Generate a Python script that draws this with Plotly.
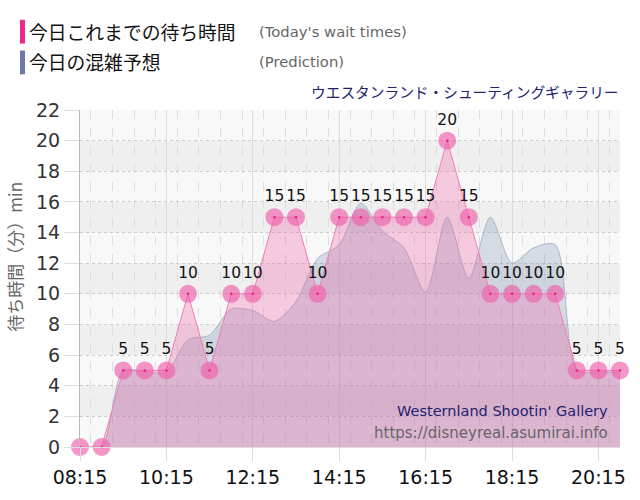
import plotly.graph_objects as go

times = ["08:15", "08:45", "09:15", "09:45", "10:15", "10:45", "11:15", "11:45", "12:15",
         "12:45", "13:15", "13:45", "14:15", "14:45", "15:15", "15:45", "16:15", "16:45",
         "17:15", "17:45", "18:15", "18:45", "19:15", "19:45", "20:15", "20:45"]
actual = [0, 0, 5, 5, 5, 10, 5, 10, 10, 15, 15, 10, 15, 15, 15, 15, 15, 20,
          15, 10, 10, 10, 10, 5, 5, 5]
predicted = [0, 0, 5, 4.9, 4.9, 7.0, 7.3, 9.0, 8.9, 8.2, 9.5, 12.3, 13.2, 15.9,
             14.1, 13.0, 10.1, 15.0, 11.0, 15.0, 12.0, 13.0, 13.2, 5.0, 4.9, 4.9]
tick_labels = ["08:15", "10:15", "12:15", "14:15", "16:15", "18:15", "20:15"]

DAY = "2024-01-01 "
xs = [DAY + t for t in times]
tickvals = [DAY + t for t in tick_labels]
labels = [str(v) if v > 0 else "" for v in actual]

# plot area in pixels: x 80..620, y 110..450
def px(x):
    return (x - 80) / 540

def py(y):
    return (450 - y) / 340

fig = go.Figure()

fig.add_trace(go.Scatter(
    x=xs, y=predicted, mode="lines", line=dict(color="#aab6c8", width=1, shape="spline", smoothing=0.8),
    fill="tozeroy", fillcolor="rgba(110,135,170,0.26)", hoverinfo="skip", showlegend=False))

fig.add_trace(go.Scatter(
    x=xs, y=actual, mode="lines+markers+text", line=dict(color="#f27db8", width=1),
    fill="tozeroy", fillcolor="rgba(240,95,165,0.30)",
    marker=dict(size=18, color="rgba(238,95,170,0.66)"),
    text=labels, textposition="top center",
    textfont=dict(family="DejaVu Sans", size=15.5, color="#111"),
    cliponaxis=False, showlegend=False))

fig.add_trace(go.Scatter(
    x=xs, y=actual, mode="markers", marker=dict(size=2.5, color="#e8207f"),
    cliponaxis=False, hoverinfo="skip", showlegend=False))

shapes = []
for y0 in [2, 6, 10, 14, 18]:
    shapes.append(dict(type="rect", xref="paper", yref="y", x0=0, x1=1, y0=y0, y1=y0 + 2,
                       fillcolor="#efefef", line=dict(width=0), layer="below"))
# legend bars
shapes.append(dict(type="rect", xref="paper", yref="paper", x0=px(20), x1=px(25),
                   y0=py(43), y1=py(19), fillcolor="#f0288c", line=dict(width=0)))
shapes.append(dict(type="rect", xref="paper", yref="paper", x0=px(20), x1=px(25),
                   y0=py(74), y1=py(50), fillcolor="#6b78a8", line=dict(width=0)))

def A(x, y, text, anchor, family, size, color, angle=0):
    return dict(x=px(x), y=py(y), xref="paper", yref="paper", text=text, showarrow=False,
                textangle=angle,
                xanchor=anchor, yanchor="middle", font=dict(family=family, size=size, color=color))

ann = [
    A(27, 31, "今日これまでの待ち時間", "left", "Noto Sans CJK JP", 18.8, "#111"),
    A(27, 61, "今日の混雑予想", "left", "Noto Sans CJK JP", 18.8, "#111"),
    A(257, 31, "(Today's wait times)", "left", "DejaVu Sans", 14.8, "#666"),
    A(257, 61, "(Prediction)", "left", "DejaVu Sans", 14.8, "#666"),
    A(621, 91, "ウエスタンランド・シューティングギャラリー", "right", "Noto Sans CJK JP", 14.7, "#22226e"),
    A(610, 414, "Westernland Shootin' Gallery", "right", "DejaVu Sans", 14.5, "#22226e"),
    A(610, 436, "https://disneyreal.asumirai.info", "right", "DejaVu Sans", 15, "#666"),
    dict(x=px(15), y=py(258), xref="paper", yref="paper", text="待ち時間（分）min", showarrow=False,
         textangle=-90, xanchor="center", yanchor="middle",
         font=dict(family="Noto Sans CJK JP", size=17, color="#666")),
]

fig.update_layout(
    width=640, height=500,
    margin=dict(l=80, r=20, t=110, b=50),
    paper_bgcolor="white", plot_bgcolor="#f8f8f8",
    shapes=shapes, annotations=ann,
    xaxis=dict(
        type="date", range=[DAY + "08:15", DAY + "20:45"],
        tickvals=tickvals, ticktext=tick_labels,
        tickfont=dict(family="DejaVu Sans", size=19, color="#111"),
        showgrid=True, gridcolor="#dcdcdc", gridwidth=1,
        ticks="outside", ticklen=13, tickcolor="#dcdcdc",
        minor=dict(dtick=30 * 60 * 1000, showgrid=True, gridcolor="#dddddd", griddash="dash", gridwidth=1),
        showline=True, linecolor="#dddddd", zeroline=False, fixedrange=True,
    ),
    yaxis=dict(
        range=[0, 22], dtick=2, tickfont=dict(family="DejaVu Sans", size=19, color="#333"),
        showgrid=True, gridcolor="#cccccc", griddash="dot",
        ticks="outside", ticklen=15, tickcolor="#dddddd",
        showline=True, linecolor="#b8b8c0", zeroline=False,
    ),
)

fig.write_html("out.html")
